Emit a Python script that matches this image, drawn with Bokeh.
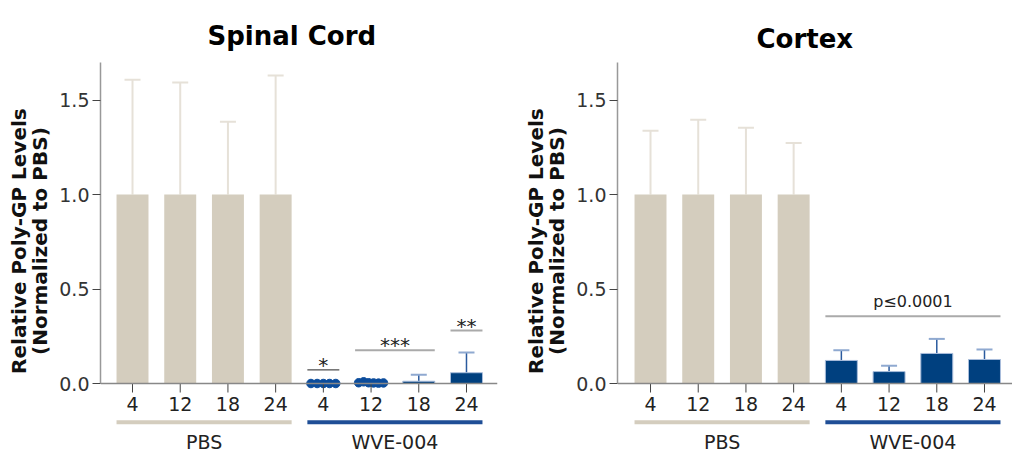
import numpy as np
from bokeh.plotting import figure
from bokeh.layouts import row
from bokeh.models import (Range1d, FixedTicker, Span, Whisker, ColumnDataSource,
                          TeeHead, PrintfTickFormatter)
from bokeh.core.properties import value
from bokeh.embed import file_html
from bokeh.resources import INLINE

# ---------------- data ----------------
timepoints = ["4", "12", "18", "24"]
groups = ["PBS", "WVE-004"]

sc_pbs_mean = [1.0, 1.0, 1.0, 1.0]
sc_pbs_upper = [1.607, 1.593, 1.385, 1.630]
sc_wve_mean = [0.002, 0.005, 0.012, 0.057]
sc_wve_upper = [0.004, 0.008, 0.046, 0.164]
sc_wve_dots_4 = [0.0, 0.0, 0.0, 0.0, 0.0]
sc_wve_dots_12 = [0.004, 0.009, 0.004, 0.003, 0.002, 0.003]

cx_pbs_mean = [1.0, 1.0, 1.0, 1.0]
cx_pbs_upper = [1.337, 1.395, 1.353, 1.273]
cx_wve_mean = [0.122, 0.063, 0.159, 0.127]
cx_wve_upper = [0.176, 0.094, 0.236, 0.180]

# significance: (label, first bar index, last bar index, height)
sc_sig = [("*", 4, 4, 0.072), ("***", 5, 6, 0.176), ("**", 7, 7, 0.280)]
cx_sig = [("p\u22640.0001", 4, 7, 0.356)]

# ---------------- style ----------------
PBS_C = "#d4cdbe"
PBS_ERR = "#e6e1d8"
WVE_C = "#00407f"
WVE_LINE = "#1f4e96"
DOT_C = "#0b4c9c"
FONT = "DejaVu Sans"
BW = 0.67

H = 454
TOP = 62
PX_PER_UNIT = 189.0
Y1 = (383 - TOP) / PX_PER_UNIT
Y0 = -(H - 383) / PX_PER_UNIT
PXU = 1.0 / PX_PER_UNIT  # data units per pixel


def make_panel(title, width, bl, br, xr, pbs_m, pbs_u, wve_m, wve_u, sig, dots,
               title_offset, title_standoff):
    p = figure(width=width, height=H, output_backend="svg", toolbar_location=None,
               x_range=Range1d(*xr), y_range=Range1d(Y0, Y1),
               x_axis_location=None, min_border_left=bl, min_border_right=br,
               min_border_top=TOP, min_border_bottom=0)
    p.title.text = title
    p.title.text_font = FONT
    p.title.text_font_size = "26px"
    p.title.text_font_style = "bold"
    p.title.text_color = "#000000"
    p.title.align = "left"
    p.title.offset = title_offset
    p.title.standoff = title_standoff
    p.outline_line_color = None
    p.grid.visible = False
    p.background_fill_color = "white"
    p.border_fill_color = "white"

    ax = p.yaxis[0]
    ax.bounds = (0, Y1)
    ax.ticker = FixedTicker(ticks=[0, 0.5, 1.0, 1.5])
    ax.formatter = PrintfTickFormatter(format="%.1f")
    ax.axis_line_color = "#999999"
    ax.axis_line_width = 1.5
    ax.major_tick_line_color = "#444444"
    ax.major_tick_out = 8
    ax.major_tick_in = 0
    ax.minor_tick_line_color = None
    ax.major_label_text_font = FONT
    ax.major_label_text_font_size = "19px"
    ax.major_label_text_color = "#333333"
    ax.major_label_standoff = 3
    pad = "\u00a0" * 5
    ax.axis_label = pad + "Relative Poly-GP Levels\n" + pad + "(Normalized to PBS)"
    ax.axis_label_text_font = FONT
    ax.axis_label_text_font_size = "20px"
    ax.axis_label_text_font_style = "bold"
    ax.axis_label_text_color = "#111111"
    ax.axis_label_text_line_height = 0.9
    ax.axis_label_standoff = 4

    xs = np.arange(1, 9)
    xp, xw = xs[:4], xs[4:]

    # bars
    p.vbar(x=xp, top=pbs_m, width=BW, bottom=0, fill_color=PBS_C, line_color=None)
    p.vbar(x=xw, top=wve_m, width=BW, bottom=0, fill_color=WVE_C,
           line_color="#a9bddb", line_width=1)

    # error bars (upper only, where visible)
    s1 = ColumnDataSource(dict(x=xp, lo=pbs_m, up=pbs_u))
    p.add_layout(Whisker(base="x", lower="lo", upper="up", source=s1, dimension="height",
                         line_color=PBS_ERR, line_width=2, lower_head=None,
                         upper_head=TeeHead(size=16, line_color=PBS_ERR, line_width=2)))
    keep = [i for i in range(4) if wve_u[i] - wve_m[i] > 0.01]
    s2 = ColumnDataSource(dict(x=[xw[i] for i in keep], lo=[wve_m[i] for i in keep],
                               up=[wve_u[i] for i in keep]))
    p.add_layout(Whisker(base="x", lower="lo", upper="up", source=s2, dimension="height",
                         line_color="#2a5a9e", line_width=1.5, lower_head=None,
                         upper_head=TeeHead(size=16, line_color="#8fa9d0", line_width=2)))

    # baseline
    p.add_layout(Span(location=0, dimension="width", line_color="#888888", line_width=1.5))

    # dots
    for idx, vals in dots:
        n = len(vals)
        offs = np.linspace(-0.26, 0.26, n)
        p.scatter(x=xs[idx] + offs, y=vals, size=8.5, fill_color=DOT_C, line_color=DOT_C)

    # x ticks and labels
    p.segment(x0=xs, y0=np.zeros(8), x1=xs, y1=np.full(8, -9 * PXU),
              line_color="#444444", line_width=1)
    p.text(x=xs, y=np.full(8, -20.5 * PXU), text=timepoints * 2,
           text_font=value(FONT), text_font_size=value("19px"), text_color="#222222",
           text_align="center", text_baseline="middle")

    # group lines and labels
    p.segment(x0=[xp[0] - BW / 2, xw[0] - BW / 2], y0=[-38.7 * PXU] * 2,
              x1=[xp[-1] + BW / 2, xw[-1] + BW / 2], y1=[-38.7 * PXU] * 2,
              line_color=[PBS_C, WVE_LINE], line_width=4, line_cap="butt")
    p.text(x=[xp.mean(), xw.mean()], y=[-58.5 * PXU] * 2, text=groups,
           text_font=value(FONT), text_font_size=value("19px"), text_color="#222222",
           text_align="center", text_baseline="middle")

    # significance
    for lab, a, b, yv in sig:
        star = lab.startswith("*")
        p.segment(x0=[xs[a] - BW / 2], y0=[yv], x1=[xs[b] + BW / 2], y1=[yv],
                  line_color="#222222" if lab == "*" else "#aaaaaa",
                  line_width=1 if lab == "*" else 2)
        p.text(x=[(xs[a] + xs[b]) / 2], y=[yv], text=[lab],
               text_font=value(FONT), text_font_size=value("20px" if star else "16px"),
               text_color="#222222", text_align="center", text_baseline="middle",
               y_offset=-5 if star else -15)
    return p


p1 = make_panel("Spinal Cord", 505, 100, 8, (0.329, 8.65),
                sc_pbs_mean, sc_pbs_upper, sc_wve_mean, sc_wve_upper, sc_sig,
                [(4, sc_wve_dots_4), (5, sc_wve_dots_12)], 107, 24)
p2 = make_panel("Cortex", 507, 112, 0, (0.308, 8.587),
                cx_pbs_mean, cx_pbs_upper, cx_wve_mean, cx_wve_upper, cx_sig, [], 139, 18)

layout = row(p1, p2)
open("out.html", "w").write(file_html(layout, INLINE))
